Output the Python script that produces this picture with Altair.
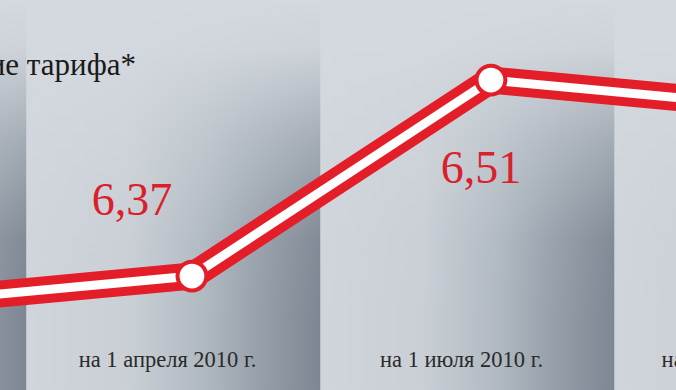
import altair as alt
import pandas as pd

# ---- data ----
dates = ["на 1 января 2010 г.", "на 1 апреля 2010 г.", "на 1 июля 2010 г.", "на 1 октября 2010 г."]
values = [6.35, 6.37, 6.51, 6.49]
value_labels = [f"{v:.2f}".replace(".", ",") for v in values]
title_text = "Изменение тарифа*"

df = pd.DataFrame({"i": list(range(len(dates))), "date": dates,
                   "value": values, "label": value_labels})
one = pd.DataFrame({"k": [0]})

W, H = 676, 390
BG = "#d3d9de"
RED = "#e31e28"
SERIF = "Liberation Serif"

col_x = alt.Scale(domain=[0.410, 2.709], nice=False, zero=False)
pt_x = alt.Scale(domain=[0.358, 2.619], nice=False, zero=False)
y_sc = alt.Scale(domain=[6.2886, 6.5672], nice=False, zero=False)

col_grad = alt.LinearGradient(
    gradient="linear", x1=0, x2=1, y1=0, y2=0,
    stops=[
        alt.GradientStop(color="#cfd5da", offset=0),
        alt.GradientStop(color="#c9cfd5", offset=0.35),
        alt.GradientStop(color="#b1b9c1", offset=0.6),
        alt.GradientStop(color="#939ca7", offset=0.82),
        alt.GradientStop(color="#7d8692", offset=1),
    ],
)
fade_grad = alt.LinearGradient(
    gradient="linear", x1=0, x2=0, y1=0, y2=1,
    stops=[
        alt.GradientStop(color="rgba(211,217,222,1)", offset=0),
        alt.GradientStop(color="rgba(211,217,222,0.92)", offset=0.156),
        alt.GradientStop(color="rgba(211,217,222,0.45)", offset=0.44),
        alt.GradientStop(color="rgba(211,217,222,0.05)", offset=0.75),
        alt.GradientStop(color="rgba(211,217,222,0)", offset=1),
    ],
)

base = alt.Chart(df)

columns = base.transform_calculate(
    x0="datum.i - 0.5", x1="datum.i + 0.5"
).mark_rect(fill=col_grad).encode(
    x=alt.X("x0:Q", scale=col_x, axis=None),
    x2="x1:Q",
)

fade = alt.Chart(one).mark_rect(fill=fade_grad).encode(
    x=alt.value(0), x2=alt.value(W), y=alt.value(0), y2=alt.value(320)
)

bottom_labels = base.mark_text(
    font=SERIF, fontSize=22.5, color="#2a2a2a", dx=-6, baseline="alphabetic"
).encode(
    x=alt.X("i:Q", scale=col_x, axis=None),
    y=alt.value(367),
    text="date:N",
)

enc = dict(
    x=alt.X("i:Q", scale=pt_x, axis=None),
    y=alt.Y("value:Q", scale=y_sc, axis=None),
)

line_red = base.mark_line(color=RED, strokeWidth=27).encode(**enc)
line_white = base.mark_line(color="#fdfdfd", strokeWidth=9).encode(**enc)
points = base.mark_circle(
    fill="white", stroke=RED, strokeWidth=4, size=830, opacity=1
).encode(**enc)

lab_above = base.transform_filter("datum.i <= 1").mark_text(
    font=SERIF, fontSize=46, color="#d9202b", dx=-60, dy=-61, baseline="alphabetic"
).encode(text="label:N", **enc)
lab_below = base.transform_filter("datum.i >= 2").mark_text(
    font=SERIF, fontSize=46, color="#d9202b", dx=-10, dy=103, baseline="alphabetic"
).encode(text="label:N", **enc)

chart = alt.layer(
    columns, fade, bottom_labels, line_red, line_white, points, lab_above, lab_below
).resolve_scale(x="independent").properties(
    width=W, height=H, padding=0, autosize="none", background=BG,
    title=alt.TitleParams(
        text=title_text, anchor="end", dx=-540, dy=86, font=SERIF,
        fontSize=31, fontWeight="normal", color="#1a1a1a", orient="top", frame="group",
    ),
).configure_view(strokeWidth=0)

chart.save("out.html", embed_options={"renderer": "svg", "actions": False})
